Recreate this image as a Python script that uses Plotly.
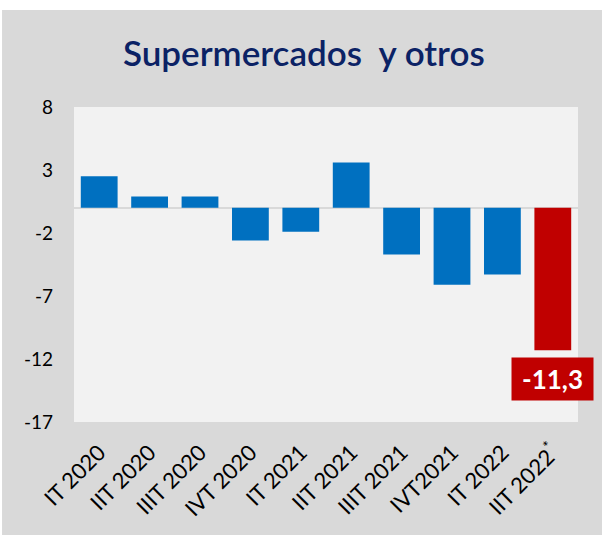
import plotly.graph_objects as go

categories = ["IT 2020", "IIT 2020", "IIIT 2020", "IVT 2020", "IT 2021", "IIT 2021",
              "IIIT 2021", "IVT2021", "IT 2022", "IIT 2022<sup>*</sup>"]
values = [2.5, 0.9, 0.9, -2.6, -1.9, 3.6, -3.7, -6.1, -5.3, -11.3]
colors = ["#0070c0"] * 9 + ["#c00000"]
tick_vals = [8, 3, -2, -7, -12, -17]
tick_text = ["8", "3", "-2", "-7", "-12", "-17"]
title_text = "Supermercados  y otros"
last_label = "-11,3"

FONT = "Lato, 'Open Sans', sans-serif"

fig = go.Figure()
fig.add_trace(go.Bar(x=categories, y=values, marker=dict(color=colors, line=dict(width=0)),
                     hoverinfo="skip"))

fig.add_annotation(x=len(categories) - 1, y=values[-1], xref="x", yref="y",
                   text="<b>" + last_label + "</b>", showarrow=False,
                   yanchor="top", yshift=-7, xshift=0,
                   font=dict(family=FONT, size=26, color="white"),
                   bgcolor="#c00000", borderpad=5, width=71, height=32)

# white strip at the very top / left of the page
fig.add_shape(type="rect", xref="paper", yref="paper", x0=-0.3, x1=1.2, y0=1.308, y1=1.4,
              fillcolor="white", line=dict(width=0), layer="below")
fig.add_shape(type="rect", xref="paper", yref="paper", x0=-0.2, x1=-0.1428, y0=-0.5, y1=1.4,
              fillcolor="white", line=dict(width=0), layer="below")

fig.update_layout(
    width=602, height=535,
    margin=dict(l=74, r=24, t=107, b=113),
    paper_bgcolor="#d9d9d9", plot_bgcolor="#f2f2f2",
    showlegend=False, bargap=0.27,
    title=dict(text=title_text, x=0.456, xref="paper", xanchor="center", y=0.9, yref="container",
               yanchor="middle",
               font=dict(family=FONT, size=35, color="#0b2265", weight=600)),
    font=dict(family=FONT, size=18, color="black"),
    xaxis=dict(tickangle=-45, showgrid=False, zeroline=False, showline=False,
               ticks="outside", ticklen=8, tickcolor="rgba(0,0,0,0)",
               range=[-0.5, len(categories) - 0.5],
               tickfont=dict(size=22)),
    yaxis=dict(range=[-17, 8], tickvals=tick_vals, ticktext=tick_text, showgrid=False,
               zeroline=True, zerolinecolor="#d9d9d9", zerolinewidth=2, showline=False,
               ticks="", ticklabelstandoff=20, tickfont=dict(size=19)),
)

fig.write_html("out.html", post_script="document.body.style.margin='0';",
               config={"displayModeBar": False})
